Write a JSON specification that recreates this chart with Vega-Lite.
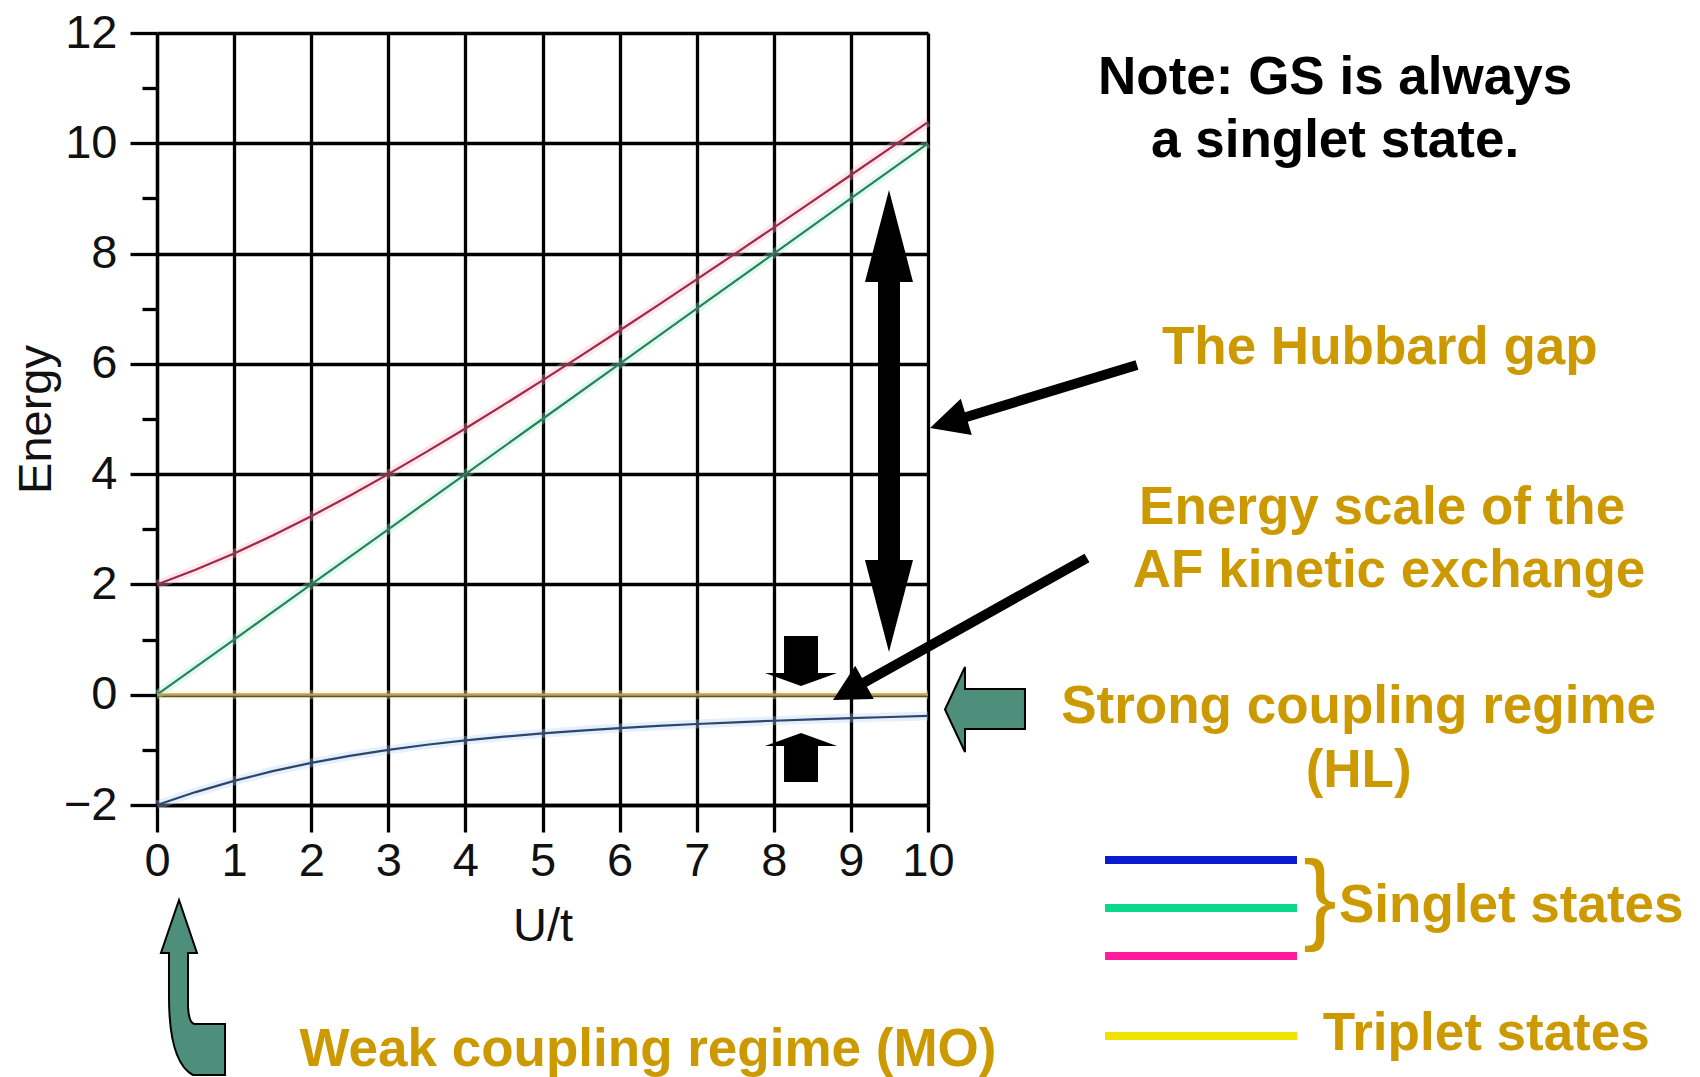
{
  "$schema": "https://vega.github.io/schema/vega-lite/v6.json",
  "width": 771,
  "height": 772,
  "autosize": {"type": "none"},
  "padding": {"left": 157, "top": 33, "right": 772, "bottom": 272},
  "background": "white",
  "config": {"view": {"stroke": null}, "font": "Liberation Sans"},
  "data": {"values": [{}]},
  "datasets": {
    "levels": [
      {"U": 0, "E": -2, "state": "S0"}, {"U": 0.5, "E": -1.7656, "state": "S0"}, {"U": 1, "E": -1.5616, "state": "S0"}, {"U": 1.5, "E": -1.386, "state": "S0"}, {"U": 2, "E": -1.2361, "state": "S0"}, {"U": 2.5, "E": -1.1085, "state": "S0"}, {"U": 3, "E": -1, "state": "S0"}, {"U": 3.5, "E": -0.9075, "state": "S0"}, {"U": 4, "E": -0.8284, "state": "S0"}, {"U": 4.5, "E": -0.7604, "state": "S0"}, {"U": 5, "E": -0.7016, "state": "S0"}, {"U": 5.5, "E": -0.6504, "state": "S0"}, {"U": 6, "E": -0.6056, "state": "S0"}, {"U": 6.5, "E": -0.5661, "state": "S0"}, {"U": 7, "E": -0.5311, "state": "S0"}, {"U": 7.5, "E": -0.5, "state": "S0"}, {"U": 8, "E": -0.4721, "state": "S0"}, {"U": 8.5, "E": -0.4471, "state": "S0"}, {"U": 9, "E": -0.4244, "state": "S0"}, {"U": 9.5, "E": -0.4039, "state": "S0"}, {"U": 10, "E": -0.3852, "state": "S0"},
      {"U": 0, "E": 2, "state": "S2"}, {"U": 0.5, "E": 2.2656, "state": "S2"}, {"U": 1, "E": 2.5616, "state": "S2"}, {"U": 1.5, "E": 2.886, "state": "S2"}, {"U": 2, "E": 3.2361, "state": "S2"}, {"U": 2.5, "E": 3.6085, "state": "S2"}, {"U": 3, "E": 4, "state": "S2"}, {"U": 3.5, "E": 4.4075, "state": "S2"}, {"U": 4, "E": 4.8284, "state": "S2"}, {"U": 4.5, "E": 5.2604, "state": "S2"}, {"U": 5, "E": 5.7016, "state": "S2"}, {"U": 5.5, "E": 6.1504, "state": "S2"}, {"U": 6, "E": 6.6056, "state": "S2"}, {"U": 6.5, "E": 7.0661, "state": "S2"}, {"U": 7, "E": 7.5311, "state": "S2"}, {"U": 7.5, "E": 8, "state": "S2"}, {"U": 8, "E": 8.4721, "state": "S2"}, {"U": 8.5, "E": 8.9471, "state": "S2"}, {"U": 9, "E": 9.4244, "state": "S2"}, {"U": 9.5, "E": 9.9039, "state": "S2"}, {"U": 10, "E": 10.3852, "state": "S2"},
      {"U": 0, "E": 0, "state": "S1"}, {"U": 1, "E": 1, "state": "S1"}, {"U": 2, "E": 2, "state": "S1"}, {"U": 3, "E": 3, "state": "S1"}, {"U": 4, "E": 4, "state": "S1"}, {"U": 5, "E": 5, "state": "S1"}, {"U": 6, "E": 6, "state": "S1"}, {"U": 7, "E": 7, "state": "S1"}, {"U": 8, "E": 8, "state": "S1"}, {"U": 9, "E": 9, "state": "S1"}, {"U": 10, "E": 10, "state": "S1"},
      {"U": 0, "E": 0, "state": "T"}, {"U": 1, "E": 0, "state": "T"}, {"U": 2, "E": 0, "state": "T"}, {"U": 3, "E": 0, "state": "T"}, {"U": 4, "E": 0, "state": "T"}, {"U": 5, "E": 0, "state": "T"}, {"U": 6, "E": 0, "state": "T"}, {"U": 7, "E": 0, "state": "T"}, {"U": 8, "E": 0, "state": "T"}, {"U": 9, "E": 0, "state": "T"}, {"U": 10, "E": 0, "state": "T"}
    ]
  },
  "resolve": {"scale": {"color": "independent"}},
  "layer": [
    {
      "data": {"name": "levels"},
      "mark": {"type": "line", "strokeWidth": 9, "opacity": 0.35},
      "encoding": {
        "x": {"field": "U", "type": "quantitative", "scale": {"domain": [0, 10], "nice": false, "zero": false},
          "axis": {"values": [0, 1, 2, 3, 4, 5, 6, 7, 8, 9, 10], "format": "d", "grid": true, "gridColor": "#000000", "gridWidth": 3.3, "gridOpacity": 1,
            "domainColor": "#000000", "domainWidth": 3.3, "tickColor": "#000000", "tickWidth": 3.3, "tickSize": 27,
            "labelFont": "Liberation Sans", "labelFontSize": 47, "labelColor": "#111111", "labelPadding": 6, "labelBaseline": "top", "labelFlush": false, "labelOverlap": false,
            "title": "U/t", "titleFont": "Liberation Sans", "titleFontSize": 47, "titleFontWeight": "normal", "titleColor": "#111111", "titleY": 135, "titleBaseline": "alphabetic"}},
        "y": {"field": "E", "type": "quantitative", "scale": {"domain": [-2, 12], "nice": false, "zero": false},
          "axis": {"values": [-2, -1.5, -1, -0.5, 0, 0.5, 1, 1.5, 2, 2.5, 3, 3.5, 4, 4.5, 5, 5.5, 6, 6.5, 7, 7.5, 8, 8.5, 9, 9.5, 10, 10.5, 11, 11.5, 12],
            "format": "d",
            "grid": true, "gridColor": "#000000", "gridWidth": 3.3,
            "gridOpacity": {"condition": {"test": "datum.value % 2 === 0", "value": 1}, "value": 0},
            "domainColor": "#000000", "domainWidth": 3.3, "tickColor": "#000000", "tickWidth": 3.3,
            "tickSize": {"condition": {"test": "datum.value % 2 === 0", "value": 27}, "value": 15},
            "labelExpr": "datum.value % 2 === 0 ? datum.label : ''",
            "labelFont": "Liberation Sans", "labelFontSize": 47, "labelColor": "#111111", "labelPadding": 13, "labelFlush": false, "labelOverlap": false,
            "title": "Energy", "titleFont": "Liberation Sans", "titleFontSize": 47, "titleFontWeight": "normal", "titleColor": "#111111", "titleX": -107, "titleY": 386, "titleBaseline": "alphabetic", "titleAlign": "center"}},
        "color": {"field": "state", "type": "nominal", "scale": {"domain": ["S0", "S1", "S2", "T"], "range": ["#b8d4f0", "#a8f0d0", "#ffb8cc", "#fff0a0"]}, "legend": null}
      }
    },
    {
      "data": {"name": "levels"},
      "mark": {"type": "line", "strokeWidth": 2.2},
      "encoding": {
        "x": {"field": "U", "type": "quantitative"},
        "y": {"field": "E", "type": "quantitative"},
        "color": {"field": "state", "type": "nominal", "scale": {"domain": ["S0", "S1", "S2", "T"], "range": ["#2d4670", "#2f7f5f", "#9b2c48", "#c0a060"]}, "legend": null}
      }
    },
    {
      "mark": {"type": "point", "shape": "M 0 -1 L 0.104 -0.602 L 0.0476 -0.602 L 0.0476 0.602 L 0.104 0.602 L 0 1 L -0.104 0.602 L -0.0476 0.602 L -0.0476 -0.602 L -0.104 -0.602 Z", "size": 213444, "filled": true, "fill": "#000000", "strokeWidth": 0, "opacity": 1},
      "encoding": {"x": {"datum": 9.494}, "y": {"datum": 4.964}}
    },
    {
      "mark": {"type": "point", "shape": "M -0.992 0.289 L -0.699 0.010 L -0.660 0.138 L 0.965 -0.357 L 0.993 -0.266 L -0.632 0.229 L -0.594 0.356 Z", "size": 44100, "filled": true, "fill": "#000000", "strokeWidth": 0, "opacity": 1},
      "encoding": {"x": {"datum": 11.377}, "y": {"datum": 5.387}}
    },
    {
      "mark": {"type": "point", "shape": "M -0.994 0.567 L -0.822 0.303 L -0.769 0.397 L 0.956 -0.567 L 0.994 -0.500 L -0.731 0.465 L -0.678 0.560 Z", "size": 66564, "filled": true, "fill": "#000000", "strokeWidth": 0, "opacity": 1},
      "encoding": {"x": {"datum": 10.431}, "y": {"datum": 1.232}}
    },
    {
      "mark": {"type": "point", "shape": "M -0.472 -0.694 L 0.472 -0.694 L 0.472 0.333 L 1 0.333 L 0 0.694 L -1 0.333 L -0.472 0.333 Z", "size": 5184, "filled": true, "fill": "#000000", "strokeWidth": 0, "opacity": 1},
      "encoding": {"x": {"datum": 8.353}, "y": {"datum": 0.611}}
    },
    {
      "mark": {"type": "point", "shape": "M 0 -0.681 L 1 -0.319 L 0.472 -0.319 L 0.472 0.681 L -0.472 0.681 L -0.472 -0.319 L -1 -0.319 Z", "size": 5184, "filled": true, "fill": "#000000", "strokeWidth": 0, "opacity": 1},
      "encoding": {"x": {"datum": 8.353}, "y": {"datum": -1.139}}
    },
    {
      "mark": {"type": "point", "shape": "M -0.93 0 L -0.465 -0.988 L -0.465 -0.477 L 0.93 -0.477 L 0.93 0.453 L -0.465 0.453 L -0.465 0.988 Z", "size": 7396, "filled": true, "fill": "#4e8f7b", "stroke": "#000000", "strokeWidth": 2, "opacity": 1},
      "encoding": {"x": {"datum": 10.739}, "y": {"datum": -0.268}}
    },
    {
      "mark": {"type": "point", "shape": "M -0.159 -0.994 L 0.045 -0.392 L -0.057 -0.392 L -0.057 0.222 Q -0.045 0.415 0.023 0.415 L 0.364 0.415 L 0.364 0.994 L 0 0.994 Q -0.273 0.85 -0.273 0.1 L -0.273 -0.392 L -0.364 -0.392 Z", "size": 30976, "filled": true, "fill": "#4e8f7b", "stroke": "#000000", "strokeWidth": 2, "opacity": 1},
      "encoding": {"x": {"datum": 0.467}, "y": {"datum": -5.31}}
    },
    {
      "mark": {"type": "rule", "strokeWidth": 8, "color": "#0a1acf"},
      "encoding": {"x": {"datum": 12.296}, "x2": {"datum": 14.786}, "y": {"datum": -2.997}}
    },
    {
      "mark": {"type": "rule", "strokeWidth": 8, "color": "#08d98a"},
      "encoding": {"x": {"datum": 12.296}, "x2": {"datum": 14.786}, "y": {"datum": -3.868}}
    },
    {
      "mark": {"type": "rule", "strokeWidth": 8, "color": "#ff1c9c"},
      "encoding": {"x": {"datum": 12.296}, "x2": {"datum": 14.786}, "y": {"datum": -4.739}}
    },
    {
      "mark": {"type": "rule", "strokeWidth": 8, "color": "#eee400"},
      "encoding": {"x": {"datum": 12.296}, "x2": {"datum": 14.786}, "y": {"datum": -6.19}}
    },
    {
      "mark": {"type": "text", "text": "Note: GS is always", "font": "Liberation Sans", "fontWeight": "bold", "fontSize": 53, "color": "#000000", "align": "center", "baseline": "alphabetic"},
      "encoding": {"x": {"datum": 15.28}, "y": {"datum": 10.894}}
    },
    {
      "mark": {"type": "text", "text": "a singlet state.", "font": "Liberation Sans", "fontWeight": "bold", "fontSize": 53, "color": "#000000", "align": "center", "baseline": "alphabetic"},
      "encoding": {"x": {"datum": 15.28}, "y": {"datum": 9.752}}
    },
    {
      "mark": {"type": "text", "text": "The Hubbard gap", "font": "Liberation Sans", "fontWeight": "bold", "fontSize": 53, "color": "#cc9900", "align": "center", "baseline": "alphabetic"},
      "encoding": {"x": {"datum": 15.86}, "y": {"datum": 6.0}}
    },
    {
      "mark": {"type": "text", "text": "Energy scale of the", "font": "Liberation Sans", "fontWeight": "bold", "fontSize": 53, "color": "#cc9900", "align": "center", "baseline": "alphabetic"},
      "encoding": {"x": {"datum": 15.89}, "y": {"datum": 3.096}}
    },
    {
      "mark": {"type": "text", "text": "AF kinetic exchange", "font": "Liberation Sans", "fontWeight": "bold", "fontSize": 53, "color": "#cc9900", "align": "center", "baseline": "alphabetic"},
      "encoding": {"x": {"datum": 15.98}, "y": {"datum": 1.954}}
    },
    {
      "mark": {"type": "text", "text": "Strong coupling regime", "font": "Liberation Sans", "fontWeight": "bold", "fontSize": 53, "color": "#cc9900", "align": "center", "baseline": "alphabetic"},
      "encoding": {"x": {"datum": 15.585}, "y": {"datum": -0.513}}
    },
    {
      "mark": {"type": "text", "text": "(HL)", "font": "Liberation Sans", "fontWeight": "bold", "fontSize": 53, "color": "#cc9900", "align": "center", "baseline": "alphabetic"},
      "encoding": {"x": {"datum": 15.585}, "y": {"datum": -1.674}}
    },
    {
      "mark": {"type": "text", "text": "Weak coupling regime (MO)", "font": "Liberation Sans", "fontWeight": "bold", "fontSize": 53, "color": "#cc9900", "align": "center", "baseline": "alphabetic"},
      "encoding": {"x": {"datum": 6.368}, "y": {"datum": -6.733}}
    },
    {
      "mark": {"type": "text", "text": "Singlet states", "font": "Liberation Sans", "fontWeight": "bold", "fontSize": 53, "color": "#cc9900", "align": "left", "baseline": "alphabetic"},
      "encoding": {"x": {"datum": 15.33}, "y": {"datum": -4.122}}
    },
    {
      "mark": {"type": "text", "text": "Triplet states", "font": "Liberation Sans", "fontWeight": "bold", "fontSize": 53, "color": "#cc9900", "align": "left", "baseline": "alphabetic"},
      "encoding": {"x": {"datum": 15.12}, "y": {"datum": -6.443}}
    },
    {
      "mark": {"type": "text", "text": "}", "font": "Liberation Sans", "fontWeight": "normal", "fontSize": 100, "color": "#cc9900", "align": "center", "baseline": "alphabetic"},
      "encoding": {"x": {"datum": 15.084}, "y": {"datum": -4.285}}
    }
  ]
}
